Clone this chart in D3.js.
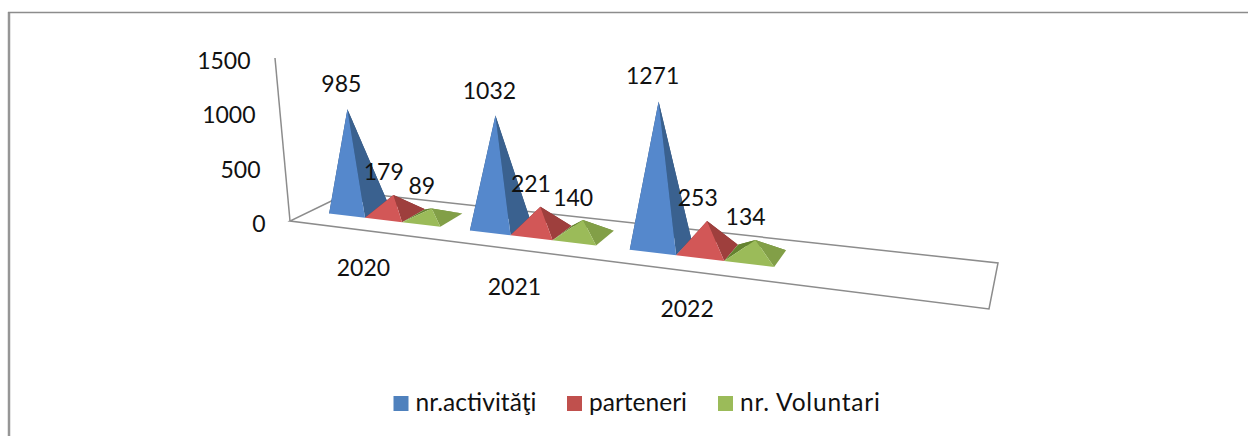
<!DOCTYPE html>
<html>
<head>
<meta charset="utf-8">
<script src="https://cdn.jsdelivr.net/npm/d3@7"></script>
<style>
    html, body { margin: 0; background: #fff; }
    svg { display: block; }
    text { font-family: Lato, sans-serif; font-size: 23px; fill: #111; }
    .legend text { font-size: 24.5px; }
</style>
</head>
<body>
<div id="chart"></div>
<script>
const categories = ['2020', '2021', '2022'];
const seriesNames = ['nr.activităţi', 'parteneri', 'nr. Voluntari'];
const activitati = [985, 1032, 1271];
const parteneri = [179, 221, 253];
const voluntari = [89, 140, 134];
const yTicks = [0, 500, 1000, 1500];

const seriesValues = [activitati, parteneri, voluntari];

const width = 1248;
const height = 436;

const palette = [
    { front: '#5588cc', side: '#3a618f', back: '#2f5078' },
    { front: '#d25757', side: '#9e3f3d', back: '#86332f' },
    { front: '#9bbb59', side: '#829f47', back: '#64832f' },
];

const svg = d3
    .select('#chart')
    .append('svg')
    .attr('width', width)
    .attr('height', height);

// outer chart frame
svg.append('line')
    .attr('x1', 9).attr('y1', 12)
    .attr('x2', 9).attr('y2', height)
    .attr('stroke', '#969696')
    .attr('stroke-width', 2.5);
svg.append('line')
    .attr('x1', 8).attr('y1', 12.5)
    .attr('x2', width).attr('y2', 12.5)
    .attr('stroke', '#8c8c8c')
    .attr('stroke-width', 1.5);

// floor corners on screen, used for the perspective mapping
const floorCorners = { a: [290, 221], b: [989, 309], c: [998, 263], d: [350, 192] };

// unit square -> quad homography
function makeHomography({ a, b, c, d }) {
    const dx1 = b[0] - c[0], dx2 = d[0] - c[0], sx = a[0] - b[0] + c[0] - d[0];
    const dy1 = b[1] - c[1], dy2 = d[1] - c[1], sy = a[1] - b[1] + c[1] - d[1];
    const det = dx1 * dy2 - dx2 * dy1;
    const g = (sx * dy2 - dx2 * sy) / det;
    const h = (dx1 * sy - sx * dy1) / det;
    const m = [
        b[0] - a[0] + g * b[0], d[0] - a[0] + h * d[0], a[0],
        b[1] - a[1] + g * b[1], d[1] - a[1] + h * d[1], a[1],
    ];
    return (u, v) => {
        const w = g * u + h * v + 1;
        return [(m[0] * u + m[1] * v + m[2]) / w, (m[3] * u + m[4] * v + m[5]) / w];
    };
}
const floor = makeHomography(floorCorners);

// 4 slots on the axis, the last one is empty
const xBand = d3.scaleBand().domain([...categories, '']).range([0.011, 1.011]).paddingInner(0.2).paddingOuter(0.1);
const seriesBand = d3.scaleBand().domain(d3.range(3)).range([0, xBand.bandwidth()]);
const depth = d3.scaleLinear().domain([0, 1]).range([0.32, 0.74]);

// how far a value rises on screen, depends on floor position
const riseY = d3.scaleLinear().domain([300, 700]).range([0.0995, 0.114]);
const leanX = d3.scaleLinear().domain([300, 500, 700]).range([-0.015, -0.005, -0.001]);

function lift(p, value) {
    return [p[0] + leanX(p[0]) * value, p[1] - riseY(p[0]) * value];
}

// data label offset from the apex, tall pyramids sit a bit further away
const labelDx = d3.scaleLinear().domain([100, 1000]).range([-10, -6]).clamp(true);
const labelDy = d3.scaleLinear().domain([100, 1000]).range([-14.5, -17]).clamp(true);

const axisY = d3.scaleLinear().domain([0, 1500]).range([221, 58]);
const axisX = d3.scaleLinear().domain([0, 1500]).range([290, 275]);

// floor and value axis outline
svg.append('path')
    .attr('d', d3.line()([floorCorners.d, floorCorners.a, floorCorners.b, floorCorners.c, floorCorners.d]))
    .attr('fill', 'none')
    .attr('stroke', '#8c8c8c')
    .attr('stroke-width', 1.5);
svg.append('line')
    .attr('x1', axisX(0)).attr('y1', axisY(0))
    .attr('x2', axisX(1500)).attr('y2', axisY(1500))
    .attr('stroke', '#8c8c8c')
    .attr('stroke-width', 1.5);

svg.append('g')
    .selectAll('text')
    .data(yTicks)
    .join('text')
    .attr('x', (d) => axisX(d) - 24.5)
    .attr('y', (d) => axisY(d) + 11)
    .attr('text-anchor', 'end')
    .text((d) => d);

const labelData = [];
const pyramids = svg.append('g');

categories.forEach((cat, i) => {
    seriesValues.forEach((values, s) => {
        const value = values[i];
        const u0 = xBand(cat) + seriesBand(s);
        const u1 = u0 + seriesBand.bandwidth();
        const fl = floor(u0, depth(0));
        const fr = floor(u1, depth(0));
        const br = floor(u1, depth(1));
        const bl = floor(u0, depth(1));
        const apex = lift(floor((u0 + u1) / 2, depth(0.5)), value);
        const colors = palette[s];

        const faces = [
            { pts: [bl, br, apex], fill: colors.back },
            { pts: [fl, bl, apex], fill: colors.back },
            { pts: [fr, br, apex], fill: colors.side },
            { pts: [fl, fr, apex], fill: colors.front },
        ];
        pyramids.append('g')
            .selectAll('path')
            .data(faces)
            .join('path')
            .attr('d', (f) => d3.line()(f.pts) + 'Z')
            .attr('fill', (f) => f.fill);

        labelData.push({ value, apex });
    });
});

// category labels below the front edge
svg.append('g')
    .selectAll('text')
    .data(categories)
    .join('text')
    .attr('x', (d) => floor(xBand(d) + xBand.bandwidth() / 2, 0)[0] - 1)
    .attr('y', (d) => floor(xBand(d) + xBand.bandwidth() / 2, 0)[1] + 45.5)
    .attr('text-anchor', 'middle')
    .text((d) => d);

// data labels go on top of everything
svg.append('g')
    .selectAll('text')
    .data(labelData)
    .join('text')
    .attr('x', (d) => d.apex[0] + labelDx(d.value))
    .attr('y', (d) => d.apex[1] + labelDy(d.value))
    .attr('text-anchor', 'middle')
    .text((d) => d.value);

// legend
const legendX = d3.scaleOrdinal().domain(seriesNames).range([393.5, 567, 718]);
const legendTextWidth = d3.scaleOrdinal().domain(seriesNames).range([121, 98, 140]);
const legend = svg.append('g')
    .attr('class', 'legend')
    .selectAll('g')
    .data(seriesNames)
    .join('g')
    .attr('transform', (d) => `translate(${legendX(d)}, 396)`);
legend.append('rect')
    .attr('width', 15)
    .attr('height', 15)
    .attr('fill', (d, i) => ['#4f81bd', '#c0504d', '#9bbb59'][i]);
legend.append('text')
    .attr('x', 22)
    .attr('y', 15)
    .attr('textLength', (d) => legendTextWidth(d))
    .attr('lengthAdjust', 'spacing')
    .text((d) => d);
</script>
</body>
</html>
